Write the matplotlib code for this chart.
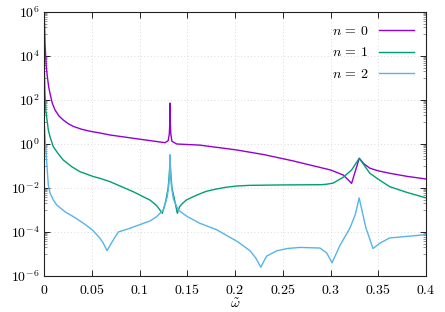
import numpy as np
import matplotlib
matplotlib.use("Agg")
import matplotlib.pyplot as plt
from matplotlib.ticker import FixedLocator, FuncFormatter

# 数据：横坐标 omega，纵坐标为 log10(值)
w_n0 = [0.00055, 0.00105, 0.0018, 0.0024, 0.0035, 0.0049, 0.0063, 0.0087, 0.0115, 0.0157,
        0.0202, 0.0255, 0.0307, 0.0394, 0.0482, 0.0586, 0.069, 0.0935, 0.1267, 0.130,
        0.1312, 0.1318, 0.132, 0.1322, 0.1328, 0.134, 0.139, 0.163, 0.2016, 0.23,
        0.26, 0.28, 0.30, 0.3134, 0.3221, 0.3301, 0.335, 0.3412, 0.35, 0.362,
        0.38, 0.4]
lg_n0 = [5.5, 4.58, 3.97, 3.51, 3.06, 2.6, 2.3, 1.85, 1.55, 1.27,
         1.09, 0.92, 0.8, 0.67, 0.58, 0.5, 0.41, 0.26, 0.06, 0.15,
         0.45, 1.0, 1.86, 1.0, 0.45, 0.12, 0.0, -0.05, -0.27, -0.48,
         -0.76, -0.97, -1.18, -1.41, -1.79, -0.65, -0.9, -1.1, -1.22, -1.33,
         -1.47, -1.59]

w_n1 = [0.0004, 0.001, 0.002, 0.0045, 0.0063, 0.0097, 0.015, 0.0202, 0.029, 0.0377,
        0.0517, 0.0586, 0.069, 0.0935, 0.111, 0.118, 0.1239, 0.1275, 0.130, 0.1312,
        0.1318, 0.132, 0.1322, 0.1328, 0.134, 0.137, 0.1396, 0.142, 0.145, 0.149,
        0.155, 0.163, 0.17, 0.18, 0.19, 0.2016, 0.215, 0.25, 0.29, 0.2955,
        0.3026, 0.3134, 0.3221, 0.3301, 0.3412, 0.35, 0.362, 0.38, 0.4]
lg_n1 = [3.4, 2.3, 1.5, 0.64, 0.33, -0.12, -0.45, -0.73, -1.03, -1.26,
         -1.48, -1.56, -1.71, -2.17, -2.55, -2.8, -3.15, -2.6, -2.0, -1.4,
         -0.9, -0.5, -0.9, -1.4, -2.0, -2.6, -3.15, -2.85, -2.7, -2.55,
         -2.42, -2.27, -2.15, -2.05, -1.97, -1.91, -1.88, -1.86, -1.85, -1.83,
         -1.78, -1.51, -1.18, -0.65, -1.33, -1.6, -1.94, -2.2, -2.45]

w_n2 = [0.0005, 0.0015, 0.0028, 0.0045, 0.0063, 0.0098, 0.0133, 0.022, 0.0307, 0.0412,
        0.05, 0.058, 0.062, 0.066, 0.072, 0.0778, 0.0866, 0.111, 0.118, 0.125,
        0.129, 0.1305, 0.1315, 0.132, 0.1325, 0.1335, 0.1355, 0.1406, 0.15, 0.163,
        0.181, 0.203, 0.2157, 0.222, 0.227, 0.233, 0.244, 0.255, 0.268, 0.289,
        0.296, 0.3016, 0.31, 0.3204, 0.326, 0.33, 0.337, 0.3445, 0.352, 0.362,
        0.38, 0.4]
lg_n2 = [0.8, 0.0, -0.8, -1.86, -2.23, -2.55, -2.77, -3.08, -3.3, -3.6,
         -3.88, -4.25, -4.5, -4.85, -4.4, -4.0, -3.88, -3.5, -3.3, -3.0,
         -2.4, -1.94, -1.3, -0.5, -1.3, -1.94, -2.5, -3.0, -3.3, -3.6,
         -3.9, -4.45, -4.85, -5.2, -5.6, -5.1, -4.85, -4.75, -4.7, -4.73,
         -4.95, -5.4, -4.6, -3.82, -3.2, -2.45, -3.8, -4.75, -4.5, -4.27,
         -4.2, -4.12]

labels = ['$n \\,=\\, 0$', '$n \\,=\\, 1$', '$n \\,=\\, 2$']
colors = ['#9400D3', '#009E73', '#56B4E9']
x_ticks = [0, 0.05, 0.1, 0.15, 0.2, 0.25, 0.3, 0.35, 0.4]
x_ticklabels = ['0', '0.05', '0.1', '0.15', '0.2', '0.25', '0.3', '0.35', '0.4']

plt.rcParams['mathtext.fontset'] = 'cm'
plt.rcParams['font.family'] = ['DejaVu Serif']

fig = plt.figure(figsize=(4.45, 3.12), dpi=100)
ax = fig.add_axes([44 / 445, 1 - 276 / 312, 382 / 445, 264 / 312])

series = [(w_n0, lg_n0), (w_n1, lg_n1), (w_n2, lg_n2)]
for (w, lg), lab, c in zip(series, labels, colors):
    ax.plot(w, 10.0 ** np.array(lg), color=c, lw=1.0, label=lab)

ax.set_yscale('log')
ax.set_xlim(0, 0.4)
ax.set_ylim(1e-6, 1e6)

# 坐标刻度（gnuplot 风格：向内、上下左右都有）
ax.set_xticks(x_ticks)
ax.set_xticklabels(['$%s$' % s for s in x_ticklabels])
ax.yaxis.set_major_locator(FixedLocator([10.0 ** k for k in range(-6, 7, 2)]))
ax.yaxis.set_major_formatter(FuncFormatter(lambda v, p: '$10^{%d}$' % round(np.log10(v))))
minor = [j * 10.0 ** k for k in range(-5, 6, 2) for j in range(1, 10)]
ax.yaxis.set_minor_locator(FixedLocator(minor))
ax.yaxis.set_minor_formatter(FuncFormatter(lambda v, p: ''))
ax.tick_params(which='both', direction='in', top=True, right=True, labelsize=10)
ax.tick_params(which='major', length=4, width=0.7, color='#222222')
ax.tick_params(which='minor', length=2.5, width=0.6, color='#888888')
ax.tick_params(axis='x', pad=5)
ax.tick_params(axis='y', pad=3)
for s in ax.spines.values():
    s.set_linewidth(0.8)
    s.set_color('#222222')

ax.grid(True, which='major', color='#d0d0d0', linestyle=(0, (1, 3)), linewidth=0.6)
ax.set_axisbelow(True)

ax.set_xlabel(r'$\tilde{\omega}$', fontsize=10, labelpad=0)

ax.legend(loc='upper right', frameon=False, markerfirst=False, fontsize=10,
          handlelength=2.5, labelspacing=0.55, borderaxespad=0.45)

fig.savefig('out.png', dpi=100)
